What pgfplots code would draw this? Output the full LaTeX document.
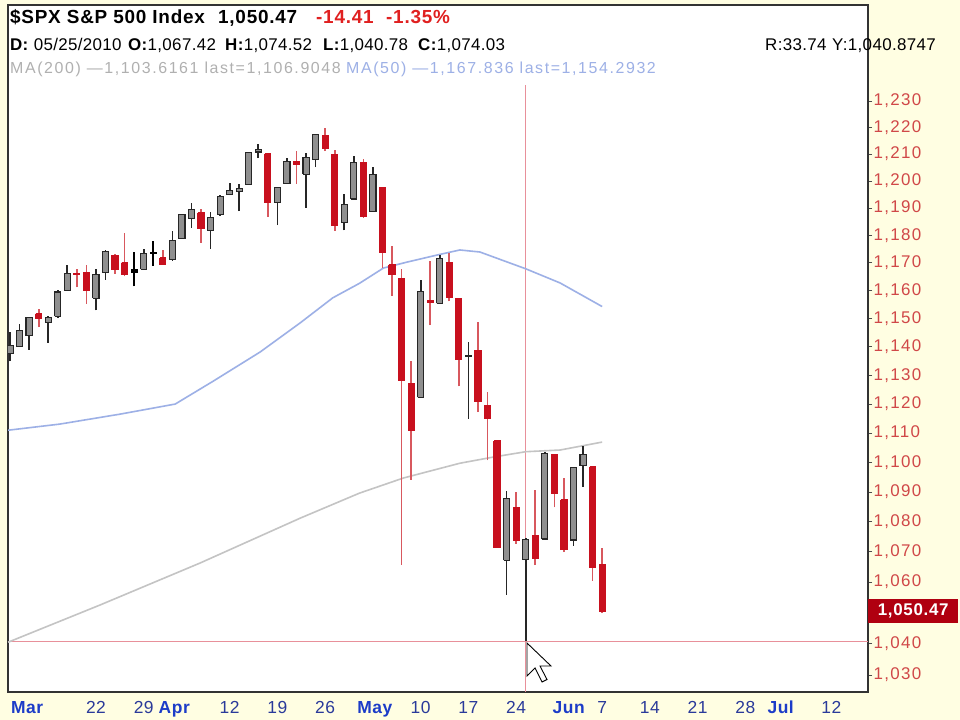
\documentclass[border=0pt]{standalone}
\usepackage{pgfplots}
\usepackage{pgfplotstable}
\pgfplotsset{compat=1.18}
\usepackage{fontspec}
\setmainfont{Liberation Sans}

\definecolor{bgyellow}{HTML}{FFFEE2}
\definecolor{axisred}{HTML}{D04848}
\definecolor{hdrred}{HTML}{E02020}
\definecolor{boxred}{HTML}{B00010}
\definecolor{monblue}{HTML}{1C3CC8}
\definecolor{numblue}{HTML}{2A3A9A}
\definecolor{maFifty}{HTML}{9DB0E6}
\definecolor{maTwoHundred}{HTML}{C4C4C4}
\definecolor{crosscol}{HTML}{E8909A}
\definecolor{candred}{HTML}{C8101E}
\definecolor{wickred}{HTML}{D8585E}
\definecolor{candgray}{HTML}{8F8F8F}

\newcommand\mon[1]{\textcolor{monblue}{\bfseries #1}}
\newcommand\hdrA{\fontsize{19}{21}\selectfont\bfseries\addfontfeature{LetterSpace=4}}
\newcommand\hdrB{\fontsize{17}{19}\selectfont\addfontfeature{LetterSpace=2}}
\newcommand\hdrC{\fontsize{16}{18}\selectfont\addfontfeature{LetterSpace=10}}

% daily OHLC, i = trading day (0 = Mar 9 2010, 62 = Jun 7 2010)
% k: 1 up (hollow grey), 2 down (red), 3 down body but up close (black)
\pgfplotstableread{
i o h l c k
0 1137.56 1145.37 1134.90 1140.45 1
1 1140.22 1148.26 1140.09 1145.61 1
2 1143.96 1150.24 1138.99 1150.24 1
3 1151.71 1153.41 1146.97 1149.99 2
4 1148.53 1150.98 1141.45 1150.51 1
5 1150.83 1160.28 1150.35 1159.46 1
6 1159.94 1169.20 1159.94 1166.21 1
7 1166.13 1167.77 1161.16 1165.83 2
8 1166.68 1169.20 1155.33 1159.90 2
9 1157.25 1167.82 1152.88 1165.81 1
10 1166.47 1174.72 1163.83 1174.17 1
11 1172.70 1173.04 1166.01 1167.72 2
12 1170.03 1180.69 1165.09 1165.73 2
13 1167.58 1173.93 1161.48 1166.59 3
14 1167.71 1174.85 1167.71 1173.22 1
15 1173.75 1177.83 1168.92 1173.27 3
16 1171.75 1174.56 1169.44 1169.43 2
17 1171.23 1181.43 1170.69 1178.10 1
18 1178.71 1187.73 1178.71 1187.44 1
19 1186.01 1191.80 1182.77 1189.44 1
20 1188.23 1189.60 1177.25 1182.45 2
21 1181.75 1188.55 1175.12 1186.44 1
22 1187.47 1194.66 1187.15 1194.37 1
23 1194.94 1199.20 1194.71 1196.48 1
24 1195.94 1199.04 1188.82 1197.30 1
25 1198.69 1210.65 1198.69 1210.65 1
26 1210.77 1213.92 1208.50 1211.67 1
27 1210.17 1210.17 1186.77 1192.13 2
28 1192.06 1197.87 1183.68 1197.52 1
29 1199.04 1208.58 1199.04 1207.17 1
30 1207.16 1210.99 1198.85 1205.94 2
31 1202.52 1210.27 1190.19 1208.67 1
32 1207.87 1217.28 1205.10 1217.28 1
33 1217.07 1219.80 1211.07 1212.05 2
34 1209.92 1211.38 1181.62 1183.71 2
35 1184.59 1195.05 1181.81 1191.36 1
36 1193.30 1209.36 1193.30 1206.78 1
37 1206.77 1207.99 1186.32 1186.69 2
38 1188.58 1205.13 1188.58 1202.26 1
39 1197.50 1197.50 1168.12 1173.60 2
40 1169.24 1175.95 1158.15 1165.90 2
41 1164.38 1167.58 1065.79 1128.15 2
42 1127.04 1135.13 1094.15 1110.88 2
43 1122.27 1163.85 1122.27 1159.73 1
44 1156.39 1170.48 1147.71 1155.79 2
45 1155.43 1172.87 1155.43 1171.67 1
46 1170.04 1173.57 1156.14 1157.44 2
47 1157.19 1157.19 1126.14 1135.68 2
48 1136.52 1141.88 1114.96 1136.94 1
49 1138.78 1148.66 1117.20 1120.80 2
50 1119.57 1124.27 1100.66 1115.05 2
51 1107.34 1107.34 1071.58 1071.59 2
52 1067.26 1090.16 1055.90 1087.69 1
53 1084.78 1089.95 1072.70 1073.65 2
54 1067.42 1074.52 1040.78 1074.03 1
55 1075.51 1090.75 1065.59 1067.95 2
56 1074.27 1103.52 1074.27 1103.06 1
57 1102.59 1102.59 1084.78 1089.41 2
58 1087.30 1094.77 1069.89 1070.71 2
59 1073.89 1098.56 1072.03 1098.38 1
60 1098.82 1105.67 1091.81 1102.83 1
61 1098.43 1098.43 1060.50 1064.88 2
62 1065.84 1071.36 1049.86 1050.47 2
}\ohlc

\begin{document}
\begin{tikzpicture}
\fill[bgyellow] (0,0) rectangle (960bp,720bp);
\useasboundingbox (0,0) rectangle (960bp,720bp);
\begin{axis}[
    at={(8bp,28bp)}, anchor=south west,
    scale only axis, width=860bp, height=687bp,
    axis background/.style={fill=white},
    axis line style={draw=black!80, line width=1.3bp},
    xmin=-0.21, xmax=89.84,
    % price scale is logarithmic; done as a coordinate transform
    y coord trafo/.code={\pgfmathparse{1000*ln(#1)-7000}},
    y coord inv trafo/.code={\pgfmathparse{exp((#1+7000)/1000)}},
    ymin=1024.6, ymax=1267.1,
    ytick={1030,1040,1060,1070,1080,1090,1100,1110,1120,1130,1140,1150,1160,1170,1180,1190,1200,1210,1220,1230},
    yticklabels={{1,030},{1,040},{1,060},{1,070},{1,080},{1,090},{1,100},{1,110},{1,120},{1,130},{1,140},{1,150},{1,160},{1,170},{1,180},{1,190},{1,200},{1,210},{1,220},{1,230}},
    ytick pos=right, yticklabel pos=right,
    minor tick num=0,
    tick align=outside, major tick length=4bp,
    ytick style={draw=black!70, line width=0.8bp},
    yticklabel style={font=\fontsize{17}{17}\selectfont\addfontfeature{LetterSpace=8}, text=axisred, xshift=-2bp},
    xtick={1.8,9,14,17.2,23,28,33,38.2,43,48,53,58.5,62,67,72,77,80.7,86},
    xticklabels={\mon{Mar},22,29,\mon{Apr},12,19,26,\mon{May},10,17,24,\mon{Jun},7,14,21,28,\mon{Jul},12},
    xtick style={draw=none},
    xticklabel style={font=\fontsize{17.5}{17.5}\selectfont\addfontfeature{LetterSpace=3}, text=numblue,
      anchor=north, text height=13bp, text depth=4bp, yshift=-1bp},
  ]
  % crosshair at the 05/25/2010 candle
  \addplot[crosscol, line width=1.1bp, forget plot] coordinates {(-0.21,1040.78) (89.84,1040.78)};
  \addplot[crosscol, line width=1.1bp, forget plot] coordinates {(54,1024.6) (54,1236.1)};

  % moving averages
  \addplot[maTwoHundred, line width=1.6bp, forget plot] coordinates {
    (-0.2,1040.5) (9.4,1052.5) (19.9,1066.3) (30.4,1081.2) (36.6,1089.6)
    (41.2,1094.7) (47.1,1099.7) (50.6,1101.8) (54,1103.62) (57.6,1104.2) (62,1106.90)};
  \addplot[maFifty, line width=1.6bp, forget plot] coordinates {
    (-0.2,1111.0) (5.2,1113.1) (11.5,1116.5) (17.3,1120.0) (21.3,1128.0)
    (26.2,1138.2) (30.4,1148.5) (33.8,1157.4) (36.6,1162.6) (39.1,1168.1)
    (41.6,1170.3) (44.7,1172.8) (47.1,1174.6) (49.2,1173.9) (54,1167.84)
    (57.6,1162.7) (62,1154.29)};

  % candles
  \pgfplotsinvokeforeach{0,...,62}{
    \pgfplotstablegetelem{#1}{o}\of\ohlc \let\vo\pgfplotsretval
    \pgfplotstablegetelem{#1}{h}\of\ohlc \let\vh\pgfplotsretval
    \pgfplotstablegetelem{#1}{l}\of\ohlc \let\vl\pgfplotsretval
    \pgfplotstablegetelem{#1}{c}\of\ohlc \let\vc\pgfplotsretval
    \pgfplotstablegetelem{#1}{k}\of\ohlc \let\vk\pgfplotsretval
    \pgfmathsetmacro\xa{#1-0.32}
    \pgfmathsetmacro\xb{#1+0.32}
    \ifnum\vk=2 \def\wcol{wickred}\def\fcol{candred}\def\bcol{candred}%
    \else\ifnum\vk=3 \def\wcol{black}\def\fcol{black}\def\bcol{black}%
    \else \def\wcol{black!85}\def\fcol{candgray}\def\bcol{black!85}\fi\fi
    \edef\docandle{%
      \noexpand\addplot[draw=\wcol, line width=1.7bp, forget plot] coordinates {(#1,\vl) (#1,\vh)};
      \noexpand\addplot[draw=\bcol, fill=\fcol, line width=1.1bp, forget plot] coordinates {(\xa,\vo) (\xb,\vo) (\xb,\vc) (\xa,\vc) (\xa,\vo)};
    }%
    \docandle
  }
\end{axis}

% last price box
\node[anchor=west, fill=boxred, text=white, inner xsep=3bp, inner ysep=0pt,
      minimum width=90bp, minimum height=24bp, font=\fontsize{17}{17}\selectfont\bfseries\addfontfeature{LetterSpace=4}]
  at (868bp,109bp) {1,050.47};

% header, set on common baselines
\node[anchor=base west, inner sep=0] at (10bp,696bp) {\hdrA \$SPX S\&P 500 Index};
\node[anchor=base west, inner sep=0] at (218bp,696bp) {\hdrA 1,050.47};
\node[anchor=base west, inner sep=0, text=hdrred] at (316bp,696bp) {\hdrA -14.41};
\node[anchor=base west, inner sep=0, text=hdrred] at (386bp,696bp) {\hdrA -1.35\%};

\node[anchor=base west, inner sep=0] at (10bp,669bp) {\hdrB\textbf{D:} 05/25/2010};
\node[anchor=base west, inner sep=0] at (128bp,669bp) {\hdrB\textbf{O:}1,067.42};
\node[anchor=base west, inner sep=0] at (225bp,669bp) {\hdrB\textbf{H:}1,074.52};
\node[anchor=base west, inner sep=0] at (323bp,669bp) {\hdrB\textbf{L:}1,040.78};
\node[anchor=base west, inner sep=0] at (418bp,669bp) {\hdrB\textbf{C:}1,074.03};
\node[anchor=base west, inner sep=0] at (765bp,669bp) {\hdrB R:33.74};
\node[anchor=base west, inner sep=0] at (832bp,669bp) {\hdrB Y:1,040.8747};

\node[anchor=base west, inner sep=0, text=maTwoHundred!90!black] at (10bp,646.5bp) {\hdrC MA(200) \textemdash1,103.6161 last=1,106.9048};
\node[anchor=base west, inner sep=0, text=maFifty] at (346bp,646.5bp) {\hdrC MA(50) \textemdash1,167.836 last=1,154.2932};

% mouse pointer
\draw[fill=white, draw=black, line width=0.9bp] (527bp,77bp) -- ++(0,-33bp) -- ++(8bp,8bp)
  -- ++(7bp,-14bp) -- ++(5bp,2.5bp) -- ++(-7bp,13.5bp) -- ++(11bp,0) -- cycle;
\end{tikzpicture}
\end{document}
